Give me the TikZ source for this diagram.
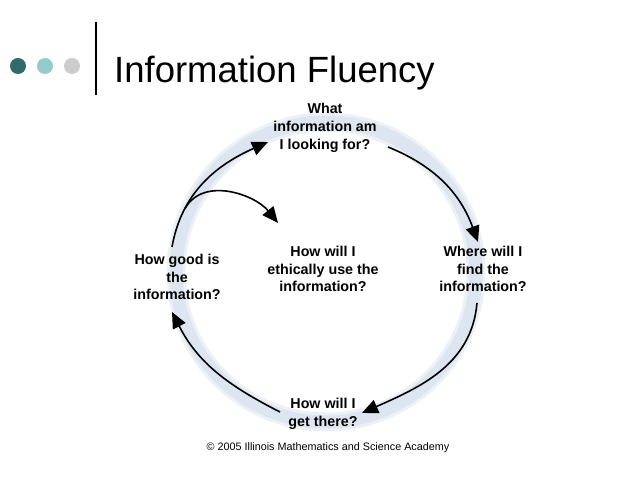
\documentclass[tikz,border=0pt]{standalone}
\usepackage{fontspec}
\setmainfont{Liberation Sans}
\usetikzlibrary{arrows.meta}
\definecolor{dotdark}{RGB}{50,106,106}
\definecolor{dotmid}{RGB}{150,203,203}
\definecolor{dotlight}{RGB}{204,204,204}
\definecolor{ringout}{RGB}{236,241,246}
\definecolor{ringin}{RGB}{221,230,240}
\begin{document}
\begin{tikzpicture}[x=1pt,y=1pt,
  qtext/.style={align=center,inner sep=0pt,font=\fontsize{14.3}{17.8}\selectfont\bfseries},
  cyc/.style={line width=1.6pt,-{Triangle[length=16pt,width=14pt]}},
  dotstyle/.style={circle,minimum size=16pt,inner sep=0pt}]
\useasboundingbox (0,0) rectangle (638,479);
\fill[white] (0,0) rectangle (638,479);
% header
\node[dotstyle,fill=dotdark] (d1) at (18,413) {};
\node[dotstyle,fill=dotmid] (d2) at (45,413) {};
\node[dotstyle,fill=dotlight] (d3) at (72,413) {};
\coordinate (vtop) at (96,457);
\coordinate (vbot) at (96,384);
\draw[line width=2.4pt] (vtop) -- (vbot);
\node[anchor=base west,inner sep=0pt,font=\fontsize{36.5}{40}\selectfont] (title) at (114,396) {Information Fluency};
% ring
\draw[ringout,line width=19pt] (326,207) circle[radius=150];
\draw[ringin,line width=13pt] (326,207) circle[radius=150];
% texts
\node[qtext] (what) at (325,351) {What\\information am\\I looking for?};
\node[qtext] (good) at (177,202) {How good is\\the\\information?};
\node[qtext] (ethic) at (323,210) {How will I\\ethically use the\\information?};
\node[qtext] (where) at (483,210) {Where will I\\find the\\information?};
\node[qtext] (there) at (323,65.5) {How will I\\get there?};
\node[inner sep=0pt,font=\fontsize{10.8}{12}\selectfont] (copy) at (328,31) {\textcopyright{} 2005 Illinois Mathematics and Science Academy};
% arrows
\draw[cyc] ([shift={(-5,30)}]good.center) to[out=80,in=204] coordinate[pos=0.27] (br) ([shift={(-57,-14)}]what.center);
\draw[cyc] ([shift={(63,-19)}]what.center) to[out=-22,in=110] ([shift={(-5,27)}]where.center);
\draw[cyc] ([shift={(-6,-34)}]where.center) to[out=-95,in=24] ([shift={(39,0.5)}]there.center);
\draw[cyc] ([shift={(-43,1.5)}]there.center) to[out=153,in=297] ([shift={(-5,-35)}]good.center);
\draw[cyc] (br) to[out=60,in=129] ([shift={(-45,46)}]ethic.center);
\end{tikzpicture}
\end{document}
